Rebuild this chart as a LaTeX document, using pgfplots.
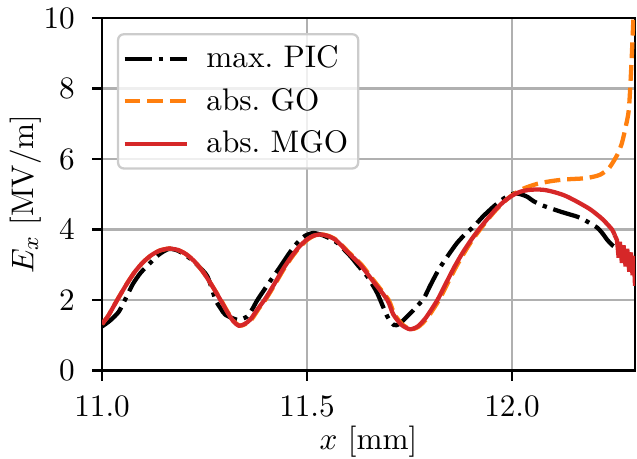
\documentclass[border=0pt,11pt]{standalone}
\usepackage{pgfplots}
\pgfplotsset{compat=1.18}
\definecolor{mplorange}{HTML}{FF7F0E}
\definecolor{mplred}{HTML}{D62728}
\definecolor{gridgray}{HTML}{B0B0B0}
\begin{document}
\begin{tikzpicture}
\begin{axis}[
  name=ax,
  scale only axis, width=187pt, height=123.7pt,
  xmin=11, xmax=12.3, ymin=0, ymax=10,
  xtick={11,11.5,12}, ytick={0,2,4,6,8,10},
  grid=major, grid style={color=gridgray, line width=0.8pt},
  axis line style={line width=0.8pt},
  tick align=outside, tick pos=left, major tick length=3.5pt,
  every tick/.style={black, line width=0.8pt},
  xticklabel style={yshift=-1.7pt, /pgf/number format/.cd, fixed, fixed zerofill, precision=1},
  yticklabel style={xshift=-2.2pt},
  xlabel={$x$ [mm]}, ylabel={$E_x$ [MV/m]},
  xlabel style={at={([yshift=-15.5pt]axis description cs:0.5,0)}, anchor=north},
  ylabel style={at={([xshift=-17.5pt]axis description cs:0,0.5)}, anchor=south},
  legend cell align=left,
  legend style={at={(0.028,0.957)}, anchor=north west, draw=black!20, line width=0.8pt,
    rounded corners=2pt, fill=white, fill opacity=0.8, text opacity=1,
    row sep=1.5pt, inner xsep=1.5pt, inner ysep=2pt},
  legend image code/.code={\draw[#1] (0pt,0pt) -- (22pt,0pt); \path (26pt,0pt);},
]
\addplot[black, line width=1.5pt, dash pattern=on 9.6pt off 2.4pt on 1.5pt off 2.4pt, smooth, tension=0.4] coordinates {
(11.0,1.25) (11.02,1.42) (11.041,1.67) (11.06,2.1) (11.075,2.45) (11.094,2.77) (11.118,3.06) (11.14,3.3) (11.163,3.45) (11.185,3.40) (11.21,3.22) (11.232,3.0) (11.257,2.67) (11.277,2.0) (11.29,1.75) (11.301,1.58) (11.33,1.44) (11.354,1.53) (11.367,1.75) (11.379,2.0) (11.405,2.45) (11.435,2.95) (11.455,3.3) (11.476,3.62) (11.495,3.82) (11.515,3.90) (11.535,3.85) (11.555,3.75) (11.574,3.62) (11.606,3.24) (11.625,2.97) (11.647,2.67) (11.671,2.2) (11.696,1.53) (11.712,1.29) (11.725,1.32) (11.744,1.53) (11.765,1.78) (11.785,2.05) (11.80,2.4) (11.821,2.86) (11.845,3.28) (11.866,3.62) (11.886,3.87) (11.907,4.09) (11.93,4.38) (11.956,4.66) (11.98,4.88) (12.004,5.02) (12.021,5.0) (12.037,4.93) (12.053,4.8) (12.075,4.68) (12.102,4.57) (12.12,4.5) (12.143,4.42) (12.16,4.36) (12.175,4.28) (12.19,4.18) (12.208,4.05) (12.22,3.9) (12.232,3.71) (12.245,3.55) (12.26,3.43) (12.272,3.25) (12.28,3.1)
};
\addlegendentry{max.\ PIC}
\addplot[mplorange, line width=1.5pt, dash pattern=on 5.55pt off 2.4pt, smooth, tension=0.4] coordinates {
(11.000,1.32) (11.015,1.55) (11.037,2.0) (11.06,2.45) (11.08,2.8) (11.10,3.07) (11.12,3.27) (11.14,3.40) (11.163,3.46) (11.185,3.42) (11.205,3.30) (11.225,3.10) (11.245,2.82) (11.265,2.47) (11.29,2.0) (11.306,1.67) (11.321,1.40) (11.336,1.27) (11.35,1.32) (11.366,1.47) (11.382,1.75) (11.401,2.05) (11.422,2.45) (11.442,2.85) (11.462,3.20) (11.482,3.50) (11.502,3.72) (11.517,3.82) (11.535,3.86) (11.552,3.82) (11.572,3.70) (11.602,3.35) (11.633,3.0) (11.663,2.55) (11.699,2.0) (11.713,1.6) (11.733,1.3) (11.754,1.17) (11.773,1.25) (11.794,1.5) (11.822,2.0) (11.844,2.5) (11.864,2.95) (11.884,3.35) (11.903,3.7) (11.922,4.0) (11.942,4.3) (11.962,4.57) (11.981,4.79) (12.0,4.97) (12.028,5.16) (12.06,5.29) (12.094,5.37) (12.13,5.42) (12.175,5.45) (12.2,5.5) (12.216,5.56) (12.235,5.72) (12.248,5.94) (12.258,6.15) (12.268,6.45) (12.277,6.9) (12.285,7.41) (12.291,8.64) (12.296,9.97) (12.299,10.8)
};
\addlegendentry{abs.\ GO}
\addplot[mplred, line width=1.5pt, smooth, tension=0.4] coordinates {
(11.000,1.32) (11.015,1.55) (11.037,2.0) (11.06,2.45) (11.08,2.8) (11.10,3.07) (11.12,3.27) (11.14,3.40) (11.163,3.46) (11.185,3.42) (11.205,3.30) (11.225,3.10) (11.245,2.82) (11.265,2.47) (11.289,2.0) (11.305,1.67) (11.32,1.40) (11.334,1.27) (11.348,1.32) (11.362,1.45) (11.38,1.75) (11.399,2.05) (11.42,2.45) (11.44,2.85) (11.46,3.20) (11.48,3.50) (11.50,3.72) (11.515,3.82) (11.533,3.86) (11.55,3.82) (11.57,3.70) (11.60,3.35) (11.63,3.0) (11.66,2.55) (11.696,2.0) (11.71,1.6) (11.73,1.3) (11.751,1.17) (11.77,1.25) (11.79,1.5) (11.818,2.0) (11.84,2.5) (11.86,2.95) (11.88,3.35) (11.90,3.7) (11.919,4.0) (11.94,4.3) (11.96,4.57) (11.98,4.79) (12.0,4.96) (12.02,5.07) (12.04,5.12) (12.061,5.135) (12.08,5.12) (12.10,5.07) (12.12,5.0) (12.135,4.93) (12.16,4.78) (12.191,4.57) (12.22,4.3) (12.244,4.0) (12.25,3.85)
};
\addlegendentry{abs.\ MGO}
\addplot[mplred, line width=1.5pt, forget plot] coordinates {
(12.25,3.85) (12.256,3.7) (12.26,3.2) (12.263,3.65) (12.268,3.05) (12.272,3.55) (12.277,2.95) (12.281,3.45) (12.286,2.8) (12.29,3.35) (12.294,2.7) (12.297,3.25) (12.3,2.4)
};
\end{axis}
\pgfresetboundingbox
\useasboundingbox ([xshift=-35.8pt,yshift=-30.7pt]ax.south west) rectangle ([xshift=0.7pt,yshift=6.3pt]ax.north east);
\end{tikzpicture}
\end{document}
